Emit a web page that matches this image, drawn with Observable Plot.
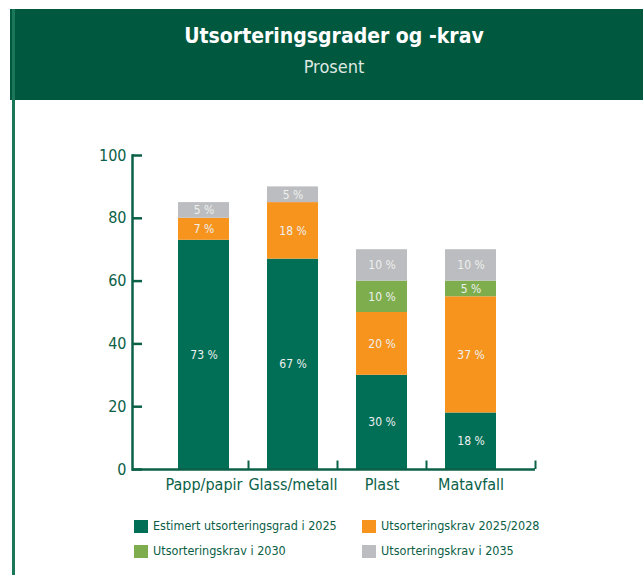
<!DOCTYPE html>
<html>
<head>
<meta charset="utf-8">
<script src="https://cdn.jsdelivr.net/npm/d3@7"></script>
<script src="https://cdn.jsdelivr.net/npm/@observablehq/plot@0.6"></script>
<style>
  html, body { margin: 0; padding: 0; background: #fff; }
  #wrap { position: relative; width: 643px; height: 575px; overflow: hidden; font-family: "DejaVu Sans Condensed", "DejaVu Sans", sans-serif; }
  #band { position: absolute; left: 10px; top: 9px; width: 633px; height: 91px; background: #00583e; }
  #edge { position: absolute; left: 12px; top: 9px; width: 3px; height: 566px; background: #1b7758; }
  #title { position: absolute; left: 25px; width: 618px; top: 24px; text-align: center; color: #fff; font-weight: bold; font-size: 21px; }
  #subtitle { position: absolute; left: 25px; width: 618px; top: 56px; text-align: center; color: #dfe8e3; font-size: 18px; }
  #chart { position: absolute; left: 0; top: 100px; }
  .leg { position: absolute; font-size: 12.5px; color: #0b5e45; white-space: nowrap; }
  .sw { position: absolute; width: 14px; height: 13px; }
</style>
</head>
<body>
<div id="wrap">
  <div id="band"></div>
  <div id="edge"></div>
  <div id="title">Utsorteringsgrader og -krav</div>
  <div id="subtitle">Prosent</div>
  <div id="chart"></div>
  <div id="legend"></div>
</div>
<script>
const categories = ["Papp/papir", "Glass/metall", "Plast", "Matavfall"];
const series = ["Estimert utsorteringsgrad i 2025", "Utsorteringskrav 2025/2028", "Utsorteringskrav i 2030", "Utsorteringskrav i 2035"];
const estimert2025 = [73, 67, 30, 18];
const krav20252028 = [7, 18, 20, 37];
const krav2030 = [0, 0, 10, 5];
const krav2035 = [5, 5, 10, 10];
const colors = ["#006f56", "#f7941e", "#7dad4d", "#bcbdc0"];
const yTicks = [0, 20, 40, 60, 80, 100];

const seriesValues = [estimert2025, krav20252028, krav2030, krav2035];
const data = [];
categories.forEach((cat, i) => {
  series.forEach((s, j) => {
    const v = seriesValues[j][i];
    if (v > 0) data.push({cat, series: s, value: v});
  });
});

const axisColor = "#0b6147";

const chart = Plot.plot({
  width: 643,
  height: 405,
  marginLeft: 132,
  marginRight: 108,
  marginTop: 55,
  marginBottom: 36,
  style: {fontFamily: "'DejaVu Sans Condensed', 'DejaVu Sans', sans-serif", background: "transparent", color: axisColor, overflow: "visible"},
  x: {domain: categories, range: [159, 515], paddingInner: 0.427, paddingOuter: 0.2135, label: null, axis: null},
  y: {domain: [0, 100], label: null, axis: null},
  color: {domain: series, range: colors},
  marks: [
    Plot.barY(data, {x: "cat", y: "value", fill: "series"}),
    Plot.text(data, Plot.stackY({x: "cat", y: "value", z: "series", text: d => d.value + " %", fill: "#eef0ee", fontSize: 12})),
    Plot.ruleY([0], {stroke: axisColor, strokeWidth: 2.5}),
    Plot.frame({anchor: "left", stroke: axisColor, strokeWidth: 2.5}),
    Plot.axisY({ticks: yTicks, tickSize: 10, dx: 10, tickFormat: () => "", stroke: axisColor, strokeWidth: 2.5, label: null}),
    Plot.axisY({ticks: yTicks, tickSize: 0, tickPadding: 6, fontSize: 16, fill: axisColor, label: null}),
    Plot.axisX({tickSize: 0, tickPadding: 9, fontSize: 16, fill: axisColor, label: null}),
    Plot.ruleX(categories.slice(0, 3), {x: d => d, dx: 44.5, y1: 0, y2: 2.7, stroke: axisColor, strokeWidth: 2}),
    Plot.ruleX(categories.slice(3), {x: d => d, dx: 64.5, y1: 0, y2: 2.7, stroke: axisColor, strokeWidth: 2})
  ]
});
document.getElementById("chart").appendChild(chart);

const legendPos = [[134, 520], [362, 520], [134, 545], [362, 545]];
const legend = document.getElementById("legend");
series.forEach((s, i) => {
  const [lx, ly] = legendPos[i];
  const sw = document.createElement("div");
  sw.className = "sw";
  sw.style.left = lx + "px";
  sw.style.top = ly + "px";
  sw.style.background = colors[i];
  legend.appendChild(sw);
  const t = document.createElement("div");
  t.className = "leg";
  t.style.left = (lx + 19) + "px";
  t.style.top = (ly - 2) + "px";
  t.textContent = s;
  legend.appendChild(t);
});
</script>
</body>
</html>
